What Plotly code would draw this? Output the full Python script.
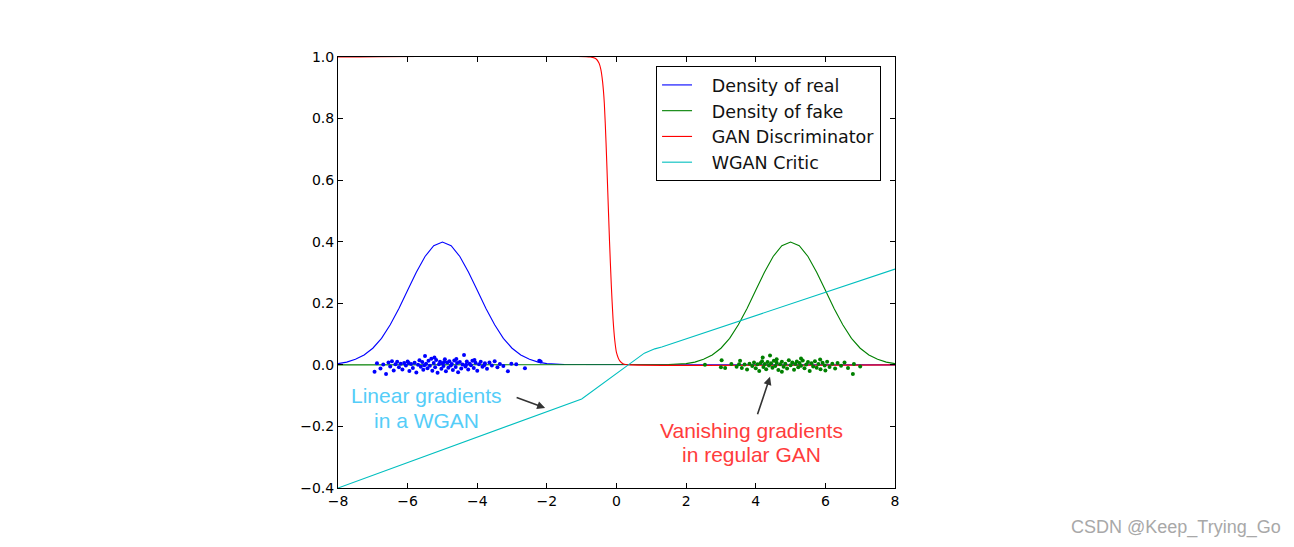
import plotly.graph_objects as go

# ---- data ----
real_x = [-8, -7.75, -7.5, -7.25, -7, -6.75, -6.5, -6.25, -6, -5.75, -5.5, -5.25, -5,
          -4.75, -4.5, -4.25, -4, -3.75, -3.5, -3.25, -3, -2.75, -2.5, -2.25, -2, -1.5, 8]
real_y = [0.004, 0.009, 0.018, 0.032, 0.054, 0.086, 0.130, 0.183, 0.242, 0.301, 0.352, 0.387, 0.399,
          0.387, 0.352, 0.301, 0.242, 0.183, 0.130, 0.086, 0.054, 0.032, 0.018, 0.009, 0.004, 0.001, 0.0]

fake_x = [-8, 1.5, 2, 2.25, 2.5, 2.75, 3, 3.25, 3.5, 3.75, 4, 4.25, 4.5, 4.75, 5,
          5.25, 5.5, 5.75, 6, 6.25, 6.5, 6.75, 7, 7.25, 7.5, 7.75, 8]
fake_y = [0.0, 0.001, 0.004, 0.009, 0.018, 0.032, 0.054, 0.086, 0.130, 0.183, 0.242, 0.301, 0.352, 0.387, 0.399,
          0.387, 0.352, 0.301, 0.242, 0.183, 0.130, 0.086, 0.054, 0.032, 0.018, 0.009, 0.004]

disc_x = [-8, -0.75, -0.6, -0.5, -0.45, -0.4, -0.35, -0.3, -0.25, -0.2, -0.15, -0.1, -0.05,
          0.0, 0.1, 0.2, 0.4, 8]
disc_y = [1.0, 1.0, 0.995, 0.98, 0.96, 0.92, 0.85, 0.72, 0.56, 0.40, 0.26, 0.15, 0.08,
          0.04, 0.012, 0.003, 0.0, 0.0]

critic_x = [-8, -1.0, 0.8, 1.1, 1.3, 8]
critic_y = [-0.40, -0.111, 0.038, 0.052, 0.058, 0.311]

real_dots_x = [-6.95, -6.88, -6.78, -6.62, -6.55, -6.5, -6.45, -6.4, -6.35, -6.3, -6.25, -6.2, -6.15,
               -6.1, -6.05, -6.0, -5.95, -5.9, -5.85, -5.8, -5.75, -5.7, -5.66, -5.62, -5.58, -5.55,
               -5.5, -5.47, -5.43, -5.4, -5.36, -5.32, -5.29, -5.25, -5.21, -5.18, -5.14, -5.1, -5.07,
               -5.03, -5.0, -4.97, -4.93, -4.9, -4.86, -4.83, -4.8, -4.76, -4.73, -4.7, -4.66, -4.62,
               -4.58, -4.55, -4.5, -4.46, -4.42, -4.38, -4.34, -4.3, -4.26, -4.22, -4.18, -4.14, -4.1,
               -4.05, -4.0, -3.95, -3.9, -3.85, -3.78, -3.72, -3.65, -3.58, -3.5, -3.42, -3.35, -3.25,
               -3.12, -3.02, -2.88, -2.63, -2.22, -2.18, -6.7, -5.97, -5.52, -5.23, -4.95, -4.6, -4.32,
               -4.08, -3.8]
real_dots_y = [-0.022, 0.005, -0.012, -0.030, 0.008, -0.005, 0.012, -0.018, 0.002, 0.010, -0.008, 0.004, -0.015,
               0.006, -0.002, 0.011, -0.020, 0.003, -0.010, 0.007, -0.025, 0.000, 0.015, -0.006, 0.009, -0.016,
               0.029, 0.004, -0.011, 0.013, -0.003, 0.020, -0.019, 0.006, -0.008, 0.016, -0.026, 0.002, 0.010,
               -0.013, 0.005, -0.004, 0.018, -0.021, 0.008, -0.009, 0.012, -0.002, 0.003, -0.017, 0.014, -0.007,
               0.006, -0.024, 0.009, -0.012, 0.001, 0.032, -0.005, 0.011, -0.015, 0.004, -0.001, 0.013, -0.010,
               0.007, -0.019, 0.002, 0.010, -0.006, 0.005, -0.013, 0.008, -0.002, 0.012, -0.008, 0.003, -0.004,
               -0.021, 0.004, 0.002, -0.011, 0.013, 0.011, 0.001, 0.006, -0.001, 0.024, 0.009, 0.019, 0.000,
               0.016, -0.001]

fake_dots_x = [2.54, 3.02, 3.0, 3.12, 3.3, 3.45, 3.52, 3.6, 3.68, 3.75, 3.82, 3.9, 3.95, 4.0, 4.05,
               4.1, 4.14, 4.18, 4.22, 4.26, 4.3, 4.34, 4.38, 4.41, 4.44, 4.48, 4.52, 4.56, 4.6, 4.65,
               4.7, 4.75, 4.8, 4.85, 4.9, 4.95, 5.0, 5.05, 5.1, 5.14, 5.18, 5.22, 5.26, 5.3, 5.35,
               5.4, 5.45, 5.5, 5.55, 5.6, 5.65, 5.7, 5.75, 5.8, 5.86, 5.92, 5.98, 6.05, 6.12, 6.2,
               6.28, 6.35, 6.45, 6.55, 6.65, 6.79, 6.82, 7.0, 4.2, 4.6, 5.3, 5.85, 3.55, 6.0, 4.75]
fake_dots_y = [0.0, 0.015, -0.008, -0.010, 0.003, -0.006, 0.002, -0.010, 0.001, -0.015, 0.004, -0.004, 0.008, -0.011, 0.002,
               -0.020, 0.006, 0.012, -0.007, 0.003, -0.014, 0.009, -0.002, 0.030, 0.005, -0.009, 0.013, -0.004, 0.007, -0.017,
               0.002, 0.010, -0.006, 0.004, -0.012, 0.015, -0.001, 0.008, -0.016, 0.003, 0.011, -0.008, 0.006, -0.003, 0.014,
               -0.011, 0.001, 0.009, -0.020, 0.005, -0.005, 0.012, -0.009, 0.003, -0.014, 0.007, -0.002, 0.010, -0.007, 0.004,
               -0.012, 0.006, -0.003, 0.008, -0.010, -0.030, 0.003, -0.005, 0.024, 0.018, 0.021, 0.017, 0.013, -0.018, -0.022]

x_ticks = [-8, -6, -4, -2, 0, 2, 4, 6, 8]
y_ticks = [-0.4, -0.2, 0.0, 0.2, 0.4, 0.6, 0.8, 1.0]

wgan_note = ["Linear gradients", "in a WGAN"]
gan_note = ["Vanishing gradients", "in regular GAN"]

BLUE, GREEN, RED, CYAN = "#0000ff", "#008000", "#ff0000", "#00bfbf"
FONT = "DejaVu Sans"
SP = "\u00a0\u00a0\u2009"

fig = go.Figure()
fig.add_trace(go.Scatter(x=real_x, y=real_y, mode="lines", name=SP + "Density of real",
                         line=dict(color=BLUE, width=1.1), legendgroup="a"))
fig.add_trace(go.Scatter(x=fake_x, y=fake_y, mode="lines", name=SP + "Density of fake",
                         line=dict(color=GREEN, width=1.1), legendgroup="b"))
fig.add_trace(go.Scatter(x=disc_x, y=disc_y, mode="lines", name=SP + "GAN Discriminator",
                         line=dict(color=RED, width=1.1, shape="spline", smoothing=0.6), legendgroup="c"))
fig.add_trace(go.Scatter(x=critic_x, y=critic_y, mode="lines", name=SP + "WGAN Critic",
                         line=dict(color=CYAN, width=1.1), legendgroup="d"))
fig.add_trace(go.Scatter(x=real_dots_x, y=real_dots_y, mode="markers", showlegend=False,
                         marker=dict(color=BLUE, size=4, line=dict(width=0))))
fig.add_trace(go.Scatter(x=fake_dots_x, y=fake_dots_y, mode="markers", showlegend=False,
                         marker=dict(color=GREEN, size=4, line=dict(width=0))))

axis_common = dict(showline=True, linecolor="black", linewidth=1, mirror="ticks",
                   ticks="inside", ticklen=5, tickcolor="black", showgrid=False, zeroline=False,
                   tickfont=dict(family=FONT, size=14, color="black"))
fig.update_xaxes(range=[-8, 8], tickvals=x_ticks, ticktext=[f"{v}".replace("-", "\u2212") for v in x_ticks],
                 **axis_common)
fig.update_yaxes(range=[-0.4, 1.0], tickvals=y_ticks,
                 ticktext=[f"{v:.1f}".replace("-", "\u2212") for v in y_ticks], **axis_common)

for txt, yy in zip(wgan_note, [-0.098, -0.182]):
    fig.add_annotation(x=-5.458, y=yy, text=txt, showarrow=False,
                       font=dict(family="Liberation Sans", size=21, color="#55cdf8"),
                       xanchor="center", yanchor="middle")
for txt, yy in zip(gan_note, [-0.213, -0.291]):
    fig.add_annotation(x=3.892, y=yy, text=txt, showarrow=False,
                       font=dict(family="Liberation Sans", size=21, color="#ff3c3c"),
                       xanchor="center", yanchor="middle")
fig.add_annotation(x=-2.05, y=-0.140, ax=-30, ay=-11, text="", showarrow=True,
                   arrowhead=2, arrowsize=1, arrowwidth=1.6, arrowcolor="#333333")
fig.add_annotation(x=4.41, y=-0.039, ax=-13, ay=39, text="", showarrow=True,
                   arrowhead=2, arrowsize=1, arrowwidth=1.6, arrowcolor="#333333")

fig.add_annotation(xref="paper", yref="paper", x=1.697, y=-0.0905, text="CSDN @Keep_Trying_Go",
                   showarrow=False, xanchor="right", yanchor="middle",
                   font=dict(family="Liberation Sans", size=18, color="#a8a8a8"))

fig.update_layout(
    width=1278, height=531,
    margin=dict(l=330, r=391, t=49, b=51),
    plot_bgcolor="white", paper_bgcolor="white",
    legend=dict(x=0.571, y=0.979, xanchor="left", yanchor="top",
                bordercolor="black", borderwidth=1, bgcolor="white",
                font=dict(family=FONT, size=17.5, color="#111111"),
                traceorder="grouped", tracegroupgap=0),
    showlegend=True,
)

fig.write_html("out.html")
